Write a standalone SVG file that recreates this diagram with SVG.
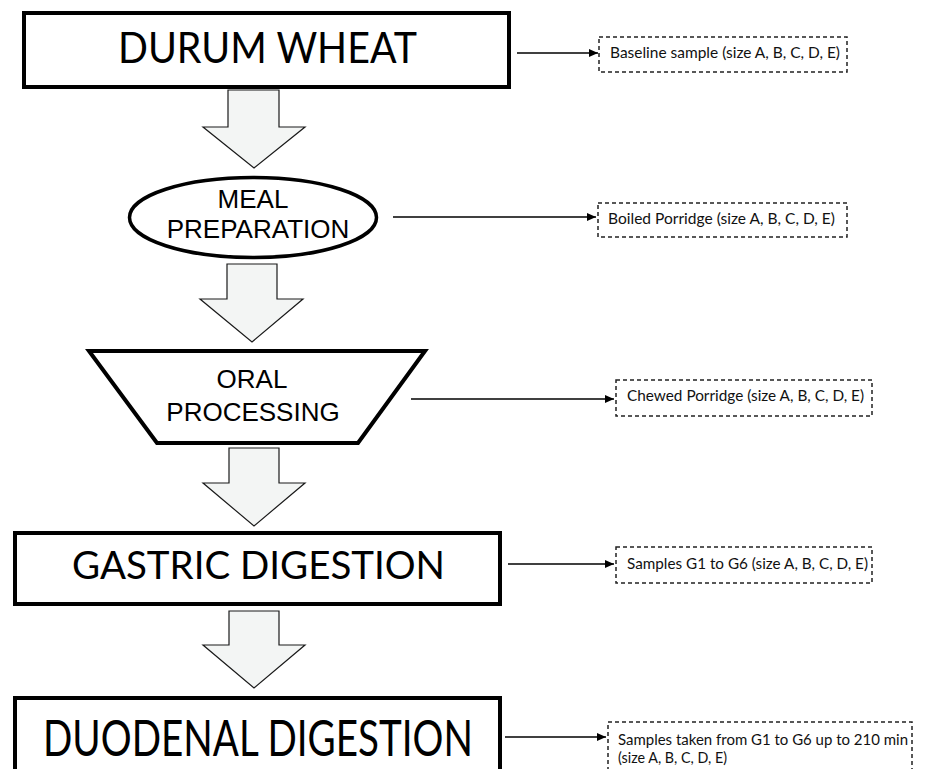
<svg xmlns="http://www.w3.org/2000/svg" width="929" height="769" viewBox="0 0 929 769">
<style>
.box{fill:#fff;stroke:#000;stroke-width:4}
.blk{fill:#f3f5f4;stroke:#1a1a1a;stroke-width:1.2;stroke-linejoin:miter}
.dash{fill:#fff;stroke:#222;stroke-width:1.5;stroke-dasharray:4 3}
.con{stroke:#000;stroke-width:1.3;fill:none}
.big{font-family:Lato,"Open Sans",sans-serif;fill:#000}
.ar{font-family:"Liberation Sans",Arial,sans-serif;font-size:26px;fill:#000;text-anchor:middle}
.sm{font-family:Lato,"Open Sans",sans-serif;font-size:15px;fill:#111}
</style>
<defs>
<marker id="ah" markerUnits="userSpaceOnUse" markerWidth="9" markerHeight="8" refX="9" refY="4" orient="auto">
<path d="M0,0 L9,4 L0,8 z" fill="#000"/>
</marker>
</defs>
<rect width="929" height="769" fill="#fff"/>

<g id="flow-arrows">
<polygon class="blk" points="228,90 279,90 279,127 305,127 254,168 203,127 228,127"/>
<polygon class="blk" points="227,264 277,264 277,299 303,299 252,342 200,299 227,299"/>
<polygon class="blk" points="229,448 279,448 279,483 305,483 254,526 203,483 229,483"/>
<polygon class="blk" points="229,611 279,611 279,645 305,645 254,688 203,645 229,645"/>
</g>

<g id="durum-wheat">
<rect class="box" x="24" y="13" width="485" height="74"/>
<text class="big" x="118" y="63" font-size="43" textLength="299" lengthAdjust="spacingAndGlyphs">DURUM WHEAT</text>
</g>

<g id="meal-preparation">
<ellipse cx="253" cy="217.5" rx="123.5" ry="40" fill="#fff" stroke="#000" stroke-width="3.5"/>
<text class="ar" x="253" y="208">MEAL</text>
<text class="ar" x="258" y="238">PREPARATION</text>
</g>

<g id="oral-processing">
<polygon class="box" points="89,351 425,351 358,443 157,443"/>
<text class="ar" x="252" y="388">ORAL</text>
<text class="ar" x="253" y="421">PROCESSING</text>
</g>

<g id="gastric-digestion">
<rect class="box" x="15" y="533" width="485" height="71"/>
<text class="big" x="72" y="579" font-size="39" textLength="373" lengthAdjust="spacingAndGlyphs">GASTRIC DIGESTION</text>
</g>

<g id="duodenal-digestion">
<rect class="box" x="15" y="698" width="485" height="90"/>
<text class="big" x="43" y="756" font-size="50" textLength="430" lengthAdjust="spacingAndGlyphs">DUODENAL DIGESTION</text>
</g>

<g id="connectors">
<line class="con" x1="517" y1="53" x2="598" y2="53" marker-end="url(#ah)"/>
<line class="con" x1="393" y1="217" x2="596" y2="217" marker-end="url(#ah)"/>
<line class="con" x1="411" y1="399" x2="614" y2="399" marker-end="url(#ah)"/>
<line class="con" x1="508" y1="564" x2="614" y2="564" marker-end="url(#ah)"/>
<line class="con" x1="505" y1="737" x2="606" y2="737" marker-end="url(#ah)"/>
</g>

<g id="baseline-sample">
<rect class="dash" x="599" y="37" width="248" height="35"/>
<text class="sm" x="610" y="58" textLength="230" lengthAdjust="spacingAndGlyphs">Baseline sample (size A, B, C, D, E)</text>
</g>

<g id="boiled-porridge">
<rect class="dash" x="598" y="203" width="249" height="34"/>
<text class="sm" x="608" y="224" textLength="227" lengthAdjust="spacingAndGlyphs">Boiled Porridge (size A, B, C, D, E)</text>
</g>

<g id="chewed-porridge">
<rect class="dash" x="616" y="380" width="256" height="36"/>
<text class="sm" x="627" y="401" textLength="237" lengthAdjust="spacingAndGlyphs">Chewed Porridge (size A, B, C, D, E)</text>
</g>

<g id="samples-g1-g6">
<rect class="dash" x="616" y="547" width="256" height="36"/>
<text class="sm" x="627" y="569" textLength="241" lengthAdjust="spacingAndGlyphs">Samples G1 to G6 (size A, B, C, D, E)</text>
</g>

<g id="samples-duodenal">
<rect class="dash" x="608" y="722" width="304" height="60"/>
<text class="sm" x="618" y="745" textLength="290" lengthAdjust="spacingAndGlyphs">Samples taken from G1 to G6 up to 210 min</text>
<text class="sm" x="618" y="763" textLength="109" lengthAdjust="spacingAndGlyphs">(size A, B, C, D, E)</text>
</g>
</svg>
